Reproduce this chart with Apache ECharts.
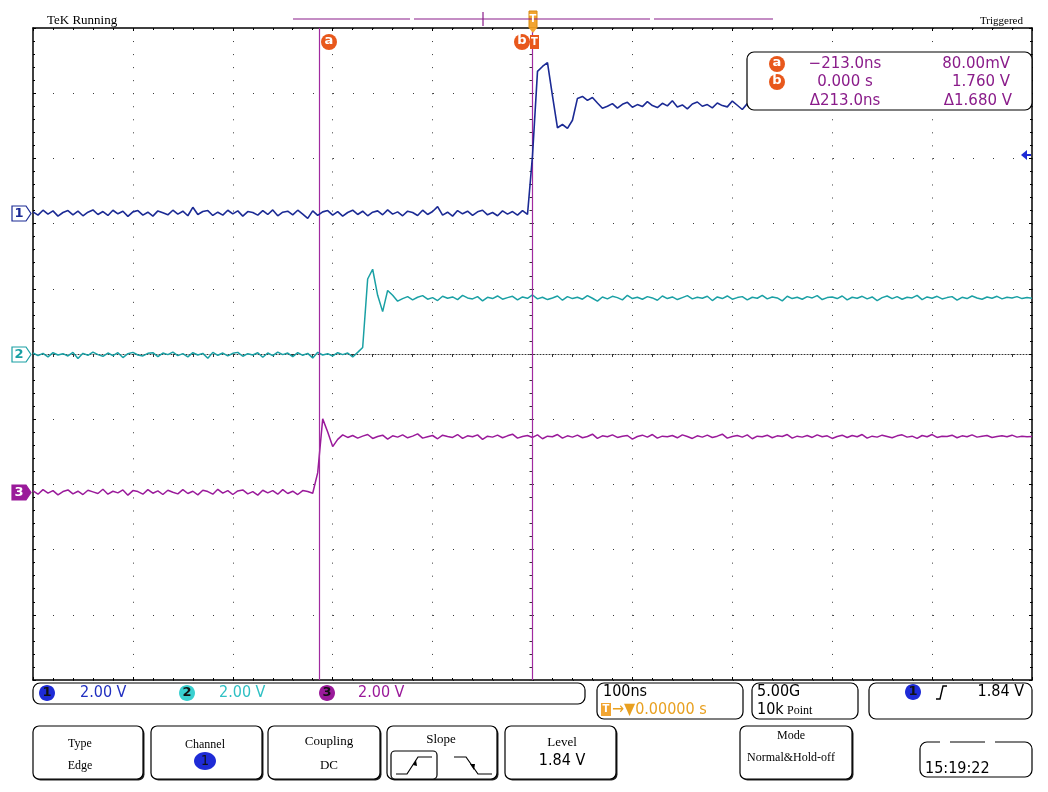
<!DOCTYPE html>
<html><head><meta charset="utf-8">
<script src="https://cdn.jsdelivr.net/npm/echarts@6/dist/echarts.min.js"></script>
<style>html,body{margin:0;padding:0;background:#fff}#c{width:1048px;height:792px}</style>
</head><body><div id="c"></div><script>
// ---- sampled record (ns) ----
const timeNs = [
-500,-495,-490,-485,-480,-475,-470,-465,-460,-455,
-450,-445,-440,-435,-430,-425,-420,-415,-410,-405,
-400,-395,-390,-385,-380,-375,-370,-365,-360,-355,
-350,-345,-340,-335,-330,-325,-320,-315,-310,-305,
-300,-295,-290,-285,-280,-275,-270,-265,-260,-255,
-250,-245,-240,-235,-230,-225,-220,-215,-210,-205,
-200,-195,-190,-185,-180,-175,-170,-165,-160,-155,
-150,-145,-140,-135,-130,-125,-120,-115,-110,-105,
-100,-95,-90,-85,-80,-75,-70,-65,-60,-55,
-50,-45,-40,-35,-30,-25,-20,-15,-10,-5,
0,5,10,15,20,25,30,35,40,45,
50,55,60,65,70,75,80,85,90,95,
100,105,110,115,120,125,130,135,140,145,
150,155,160,165,170,175,180,185,190,195,
200,205,210,215,220,225,230,235,240,245,
250,255,260,265,270,275,280,285,290,295,
300,305,310,315,320,325,330,335,340,345,
350,355,360,365,370,375,380,385,390,395,
400,405,410,415,420,425,430,435,440,445,
450,455,460,465,470,475,480,485,490,495,
500];
// Channel 1 (V)
const ch1Volts = [
0.04,-0.06,0.09,-0.03,0.07,-0.09,0.02,0.08,-0.05,0.06,
-0.08,0.03,0.10,-0.04,0.05,-0.07,0.09,-0.02,0.06,-0.10,
0.04,0.08,-0.06,0.03,-0.09,0.07,0.01,-0.05,0.09,-0.03,
0.06,-0.08,0.18,-0.04,0.05,0.08,-0.07,0.03,-0.06,0.09,
-0.02,0.07,-0.09,0.05,0.02,-0.06,0.08,-0.04,0.10,-0.08,
0.03,0.06,-0.05,0.09,-0.03,-0.16,0.07,-0.07,0.04,0.08,
-0.06,0.05,-0.09,0.02,0.09,-0.04,0.06,-0.08,0.03,0.07,
-0.05,0.10,-0.03,0.04,-0.08,0.06,0.02,-0.07,0.09,-0.04,
0.05,0.20,-0.06,0.03,-0.09,0.08,-0.02,0.06,-0.07,0.04,
0.09,-0.05,0.02,-0.08,0.07,-0.03,0.05,-0.06,0.08,-0.04,
1.76,4.35,4.50,4.62,3.60,2.62,2.72,2.60,2.85,3.52,3.58,3.46,3.55,3.38,3.22,
3.28,3.36,3.22,3.34,3.40,3.25,3.33,3.27,3.42,3.30,
3.24,3.37,3.29,3.45,3.26,3.32,3.20,3.35,3.41,3.28,
3.33,3.23,3.38,3.30,3.26,3.44,3.31,3.18,3.36,3.29,
3.34,3.25,3.39,3.27,3.32,3.43,3.24,3.35,3.30,3.22,
3.37,3.28,3.41,3.26,3.33,3.29,3.36,3.21,3.34,3.40,
3.27,3.31,3.25,3.38,3.30,3.46,3.24,3.33,3.28,3.35,
3.22,3.39,3.29,3.32,3.26,3.37,3.31,3.23,3.40,3.28,
3.34,3.25,3.36,3.30,3.42,3.27,3.33,3.21,3.35,3.29,
3.38,3.26,3.32,3.24,3.37,3.30];
// Channel 2 (V)
const ch2Volts = [
0.03,-0.05,0.02,-0.09,0.04,-0.03,0.01,-0.06,0.05,-0.14,
0.02,-0.04,0.06,-0.02,-0.07,0.03,-0.05,0.04,-0.11,0.01,
0.05,-0.03,-0.06,0.02,0.04,-0.08,0.03,-0.02,0.06,-0.05,
0.01,-0.09,0.04,-0.03,0.02,-0.13,0.05,-0.04,0.03,-0.06,
0.02,0.05,-0.07,0.01,-0.03,0.04,-0.10,0.03,-0.05,0.06,
-0.02,0.03,-0.08,0.04,-0.04,0.02,-0.12,0.05,-0.03,0.01,
-0.06,0.04,-0.02,0.03,-0.09,0.05,
0.20,2.30,2.60,1.80,1.30,1.95,1.80,1.62,
1.70,1.76,1.66,1.74,1.79,1.68,1.73,1.64,1.77,1.71,
1.75,1.67,1.80,1.72,1.69,1.76,1.63,1.74,1.70,1.78,
1.68,1.73,1.77,1.66,1.75,1.71,1.81,1.69,1.74,1.67,
1.72,1.78,1.65,1.76,1.70,1.74,1.68,1.79,1.71,1.62,
1.75,1.69,1.77,1.73,1.66,1.80,1.70,1.74,1.68,1.76,
1.72,1.65,1.78,1.70,1.75,1.67,1.73,1.79,1.69,1.74,
1.71,1.77,1.64,1.75,1.70,1.78,1.68,1.73,1.76,1.66,
1.74,1.71,1.80,1.69,1.75,1.72,1.63,1.77,1.70,1.74,
1.68,1.76,1.72,1.79,1.67,1.73,1.75,1.70,1.78,1.66,
1.74,1.71,1.77,1.69,1.75,1.64,1.73,1.78,1.70,1.76,
1.68,1.74,1.72,1.80,1.67,1.75,1.71,1.77,1.69,1.73,
1.76,1.65,1.74,1.70,1.78,1.72,1.68,1.75,1.71,1.77,
1.69,1.74,1.72,1.76,1.70,1.73,1.71];
// Channel 3 (V)
const ch3Volts = [
0.04,-0.06,0.08,-0.03,0.05,-0.08,0.02,0.07,-0.05,0.03,
-0.07,0.06,0.01,-0.04,0.09,-0.06,0.03,-0.02,0.07,-0.09,
0.05,0.02,-0.06,0.08,-0.03,0.04,-0.07,0.06,0.00,-0.05,
0.08,-0.04,0.03,-0.08,0.06,0.02,-0.06,0.09,-0.03,0.05,
-0.07,0.04,0.07,-0.05,0.02,-0.09,0.06,-0.02,0.05,-0.06,
0.08,-0.04,0.03,-0.07,0.05,0.02,-0.03,
0.60,2.25,1.85,1.40,1.62,1.76,
1.68,1.74,1.66,1.72,1.77,1.65,1.71,1.75,1.63,1.73,
1.69,1.76,1.67,1.72,1.79,1.66,1.70,1.74,1.64,1.75,
1.71,1.68,1.77,1.65,1.73,1.70,1.76,1.62,1.72,1.69,
1.75,1.67,1.73,1.78,1.66,1.71,1.74,1.68,1.76,1.64,
1.72,1.70,1.77,1.66,1.73,1.69,1.75,1.67,1.71,1.78,
1.65,1.73,1.70,1.76,1.68,1.72,1.74,1.63,1.71,1.75,
1.69,1.77,1.66,1.72,1.70,1.74,1.67,1.76,1.71,1.65,
1.73,1.69,1.75,1.68,1.72,1.78,1.66,1.71,1.74,1.69,
1.76,1.64,1.72,1.70,1.75,1.67,1.73,1.71,1.77,1.66,
1.72,1.69,1.74,1.68,1.76,1.70,1.73,1.65,1.71,1.75,
1.68,1.74,1.70,1.77,1.66,1.72,1.69,1.75,1.71,1.67,
1.73,1.76,1.69,1.72,1.65,1.74,1.70,1.77,1.68,1.72,
1.71,1.75,1.67,1.73,1.70,1.76,1.69,1.72,1.74,1.68,
1.71,1.73,1.70,1.75,1.69,1.72,1.70,1.71];
const channelOffsetDiv = [2.16, 0, -2.12];
const voltsPerDiv = 2;
const cursorTimesNs = [-213, 0];
const channelColors = ['#1b2a94', '#1aa0a4', '#9a1a9a'];

const toDiv = (volts, k) => timeNs.map((t, i) => [t, channelOffsetDiv[k] + volts[i] / voltsPerDiv]);

const SERIF = "'Liberation Serif','DejaVu Serif',serif";
const COND = "'DejaVu Sans Condensed','Liberation Sans Narrow','Roboto Condensed','DejaVu Sans',sans-serif";
const SANS = "'DejaVu Sans',sans-serif";
const PURPLE = '#8a1c8a';
const ORANGE = '#e8581c';

const G = [];
function rect(x, y, w, h, o) { o = o || {}; G.push({type:'rect', z:100, shape:{x, y, width:w, height:h, r:o.r || 0}, style:{fill:o.fill === undefined ? '#fff' : o.fill, stroke:o.stroke === undefined ? '#000' : o.stroke, lineWidth:o.lw || 1}}); }
function text(x, y, s, o) { o = o || {}; G.push({type:'text', z:103, x, y, style:{text:s, fill:o.color || '#000', font:o.font, textAlign:o.align || 'left', textVerticalAlign:'middle'}}); }
function circle(cx, cy, r, fill) { G.push({type:'circle', z:101, shape:{cx, cy, r}, style:{fill}}); }
function ellipse(cx, cy, rx, ry, fill) { G.push({type:'ellipse', z:101, shape:{cx, cy, rx, ry}, style:{fill}}); }
function poly(points, o) { G.push({type:'polygon', z:101, shape:{points}, style:{fill:o.fill || 'none', stroke:o.stroke || 'none', lineWidth:o.lw || 1}}); }
function pline(points, o) { G.push({type:'polyline', z:101, shape:{points}, style:{fill:'none', stroke:o.stroke || '#000', lineWidth:o.lw || 1}}); }
function line(x1, y1, x2, y2, o) { G.push({type:'line', z:101, shape:{x1, y1, x2, y2}, style:{stroke:o.stroke || '#000', lineWidth:o.lw || 1}}); }

// Top header
text(47, 21, 'TeK Running', {font:'13px ' + SERIF});
text(980, 21, 'Triggered', {font:'11px ' + SERIF});
line(293, 19, 410, 19, {stroke:PURPLE, lw:1.2});
line(414, 19, 650, 19, {stroke:PURPLE, lw:1.2});
line(654, 19, 773, 19, {stroke:PURPLE, lw:1.2});
line(483, 12, 483, 26, {stroke:PURPLE, lw:1.2});
rect(529, 11, 8, 17, {fill:'#f2a531', stroke:'#d88a10', lw:1});
text(533, 19, 'T', {font:'bold 10px ' + SANS, color:'#fff', align:'center'});
poly([[529, 28], [537, 28], [533, 33]], {fill:'#f2a531'});

// cursor labels on top
circle(329, 42, 8, ORANGE);
text(329, 41, 'a', {font:'bold 13px ' + SANS, color:'#fff', align:'center'});
circle(522, 42, 8, ORANGE);
text(522, 41, 'b', {font:'bold 13px ' + SANS, color:'#fff', align:'center'});
rect(530, 35, 9, 14, {fill:ORANGE, stroke:'none'});
text(534.5, 42, 'T', {font:'bold 10px ' + SANS, color:'#fff', align:'center'});

// Readout box
rect(747, 52, 285, 58, {r:7, lw:1.2});
circle(777, 64, 8, ORANGE);
text(777, 63, 'a', {font:'bold 13px ' + SANS, color:'#fff', align:'center'});
circle(777, 82, 8, ORANGE);
text(777, 81, 'b', {font:'bold 13px ' + SANS, color:'#fff', align:'center'});
text(845, 64, '\u2212213.0ns', {font:'15px ' + SANS, color:PURPLE, align:'center'});
text(845, 82, '0.000 s', {font:'15px ' + SANS, color:PURPLE, align:'center'});
text(845, 101, '\u0394213.0ns', {font:'15px ' + SANS, color:PURPLE, align:'center'});
text(1010, 64, '80.00mV', {font:'15px ' + SANS, color:PURPLE, align:'right'});
text(1010, 82, '1.760 V', {font:'15px ' + SANS, color:PURPLE, align:'right'});
text(1012, 101, '\u03941.680 V', {font:'15px ' + SANS, color:PURPLE, align:'right'});

// trigger level arrow (right edge)
poly([[1021, 155], [1027, 150], [1027, 160]], {fill:'#1e2bd6'});
line(1026, 155, 1031, 155, {stroke:'#1e2bd6', lw:2});

// Channel markers (left)
function chMarker(y, label, color, filled) {
  poly([[12, y - 7.5], [26, y - 7.5], [31, y], [26, y + 7.5], [12, y + 7.5]], {fill:filled ? color : '#fff', stroke:color, lw:1.2});
  text(19, y + 0.5, label, {font:'bold 13px ' + SANS, color:filled ? '#fff' : color, align:'center'});
}
chMarker(213.5, '1', '#1b2a94', false);
chMarker(354.5, '2', '#1aa0a4', false);
chMarker(492.5, '3', '#9a1a9a', true);

// Bottom status bar
rect(33, 683, 552, 21, {r:7, lw:1.2});
ellipse(47, 693, 8, 8, '#1e2bd6'); text(47, 693, '1', {font:'bold 13px ' + SANS, color:'#111', align:'center'});
text(80, 693, '2.00 V', {font:'16px ' + COND, color:'#2230c0'});
ellipse(187, 693, 8, 8, '#3ad0d0'); text(187, 693, '2', {font:'bold 13px ' + SANS, color:'#111', align:'center'});
text(219, 693, '2.00 V', {font:'16px ' + COND, color:'#30c0c4'});
ellipse(327, 693, 8, 8, '#9a1a9a'); text(327, 693, '3', {font:'bold 13px ' + SANS, color:'#111', align:'center'});
text(358, 693, '2.00 V', {font:'16px ' + COND, color:'#9a1a9a'});

rect(597, 683, 146, 36, {r:7, lw:1.2});
text(603, 692, '100ns', {font:'16px ' + COND});
rect(601, 703, 10, 13, {fill:'#f2a531', stroke:'none'});
text(606, 709.5, 'T', {font:'bold 10px ' + SANS, color:'#fff', align:'center'});
text(612, 710, '\u2192\u25BC0.00000 s', {font:'16px ' + COND, color:'#e8a020'});

rect(752, 683, 106, 36, {r:7, lw:1.2});
text(757, 692, '5.00G', {font:'16px ' + COND});
text(757, 710, '10k', {font:'16px ' + COND});
text(787, 711, 'Point', {font:'12px ' + SERIF});

rect(869, 683, 163, 36, {r:7, lw:1.2});
ellipse(913, 692, 8, 8, '#1e2bd6'); text(913, 692, '1', {font:'bold 13px ' + SANS, color:'#111', align:'center'});
pline([[936, 699], [940, 699], [943, 686], [947, 686]], {lw:1.4});
text(1024, 692, '1.84 V', {font:'16px ' + COND, align:'right'});

// Bottom buttons
function button(x, y, w, h) {
  rect(x + 1.5, y + 1.5, w, h, {r:6, fill:'#222', stroke:'none'});
  rect(x, y, w, h, {r:6, lw:1.2});
}
button(33, 726, 110, 53); text(80, 744, 'Type', {font:'12px ' + SERIF, align:'center'}); text(80, 766, 'Edge', {font:'12px ' + SERIF, align:'center'});
button(151, 726, 111, 53); text(205, 745, 'Channel', {font:'12px ' + SERIF, align:'center'});
ellipse(205, 761, 11, 9, '#1e2bd6'); text(205, 761, '1', {font:'14px ' + COND, color:'#111', align:'center'});
button(268, 726, 112, 53); text(329, 742, 'Coupling', {font:'13px ' + SERIF, align:'center'}); text(329, 766, 'DC', {font:'13px ' + SERIF, align:'center'});
button(387, 726, 110, 53); text(441, 740, 'Slope', {font:'13px ' + SERIF, align:'center'});
rect(391, 751, 46, 28, {r:4, lw:1.2});
pline([[396, 774], [407, 774], [418, 757], [432, 757]], {lw:1.2});
poly([[413, 765], [416, 760], [417, 766]], {fill:'#000'});
pline([[454, 757], [466, 757], [478, 774], [492, 774]], {lw:1.2});
poly([[470, 764], [474, 770], [475, 764]], {fill:'#000'});
button(505, 726, 111, 53); text(562, 743, 'Level', {font:'13px ' + SERIF, align:'center'}); text(562, 761, '1.84 V', {font:'16px ' + COND, align:'center'});
button(740, 726, 112, 53); text(791, 736, 'Mode', {font:'12px ' + SERIF, align:'center'}); text(791, 758, 'Normal&Hold-off', {font:'12px ' + SERIF, align:'center'});
rect(920, 742, 112, 35, {r:7, lw:1.2});
line(940, 742, 950, 742, {stroke:'#fff', lw:2}); line(985, 742, 995, 742, {stroke:'#fff', lw:2});
text(925, 769, '15:19:22', {font:'16px ' + COND});

const frameAxisBase = {type:'value', min:-500, max:500, interval:100};
const yBase = {type:'value', min:-5, max:5, interval:1};
const tickStyle = {color:'#000', width:1};

const chart = echarts.init(document.getElementById('c'), null, {renderer:'canvas'});
chart.setOption({
  animation:false,
  backgroundColor:'#fff',
  grid:{left:33, top:28, width:999, height:652, containLabel:false, outerBoundsMode:'none', show:false},
  xAxis:[
    Object.assign({}, frameAxisBase, {position:'bottom', axisLine:{show:true, onZero:false, lineStyle:{color:'#000', width:1.5}},
      axisTick:{show:true, inside:true, length:3, lineStyle:tickStyle}, minorTick:{show:true, splitNumber:5, length:2, lineStyle:tickStyle},
      axisLabel:{show:false}, splitLine:{show:true, lineStyle:{color:'#3a3a3a', width:1, type:[1, 12.04]}}}),
    Object.assign({}, frameAxisBase, {position:'top', axisLine:{show:true, onZero:false, lineStyle:{color:'#000', width:1.5}},
      axisTick:{show:true, inside:true, length:3, lineStyle:tickStyle}, minorTick:{show:true, splitNumber:5, length:2, lineStyle:tickStyle},
      axisLabel:{show:false}, splitLine:{show:false}}),
    Object.assign({}, frameAxisBase, {position:'bottom', axisLine:{show:true, onZero:true, onZeroAxisIndex:0, lineStyle:{color:'#333', width:1, type:[1, 2]}},
      axisTick:{show:true, inside:false, length:3, lineStyle:{color:'#333'}}, minorTick:{show:true, splitNumber:5, length:3, lineStyle:{color:'#333'}},
      axisLabel:{show:false}, splitLine:{show:false}})
  ],
  yAxis:[
    Object.assign({}, yBase, {position:'left', axisLine:{show:true, onZero:false, lineStyle:{color:'#000', width:1.5}},
      axisTick:{show:true, inside:true, length:3, lineStyle:tickStyle}, minorTick:{show:true, splitNumber:5, length:2, lineStyle:tickStyle},
      axisLabel:{show:false}, splitLine:{show:true, lineStyle:{color:'#3a3a3a', width:1, type:[1, 19]}}}),
    Object.assign({}, yBase, {position:'right', axisLine:{show:true, onZero:false, lineStyle:{color:'#000', width:1.5}},
      axisTick:{show:true, inside:true, length:3, lineStyle:tickStyle}, minorTick:{show:true, splitNumber:5, length:2, lineStyle:tickStyle},
      axisLabel:{show:false}, splitLine:{show:false}}),
    Object.assign({}, yBase, {position:'left', axisLine:{show:true, onZero:true, onZeroAxisIndex:0, lineStyle:{color:'#333', width:1, type:[1, 2]}},
      axisTick:{show:true, inside:false, length:3, lineStyle:{color:'#333'}}, minorTick:{show:true, splitNumber:5, length:3, lineStyle:{color:'#333'}},
      axisLabel:{show:false}, splitLine:{show:false}})
  ],
  series:[
    {type:'line', name:'CH1', xAxisIndex:0, yAxisIndex:0, data:toDiv(ch1Volts, 0), showSymbol:false, symbol:'none', lineStyle:{color:channelColors[0], width:1.6}, z:5, silent:true},
    {type:'line', name:'CH2', xAxisIndex:0, yAxisIndex:0, data:toDiv(ch2Volts, 1), showSymbol:false, symbol:'none', lineStyle:{color:channelColors[1], width:1.5}, z:4, silent:true},
    {type:'line', name:'CH3', xAxisIndex:0, yAxisIndex:0, data:toDiv(ch3Volts, 2), showSymbol:false, symbol:'none', lineStyle:{color:channelColors[2], width:1.5}, z:3, silent:true,
      markLine:{silent:true, symbol:['none', 'none'], label:{show:false}, lineStyle:{color:'#a02aa0', width:1.2, type:'solid'},
        data:cursorTimesNs.map(t => ({xAxis:t}))}}
  ],
  graphic:G
});
</script></body></html>
